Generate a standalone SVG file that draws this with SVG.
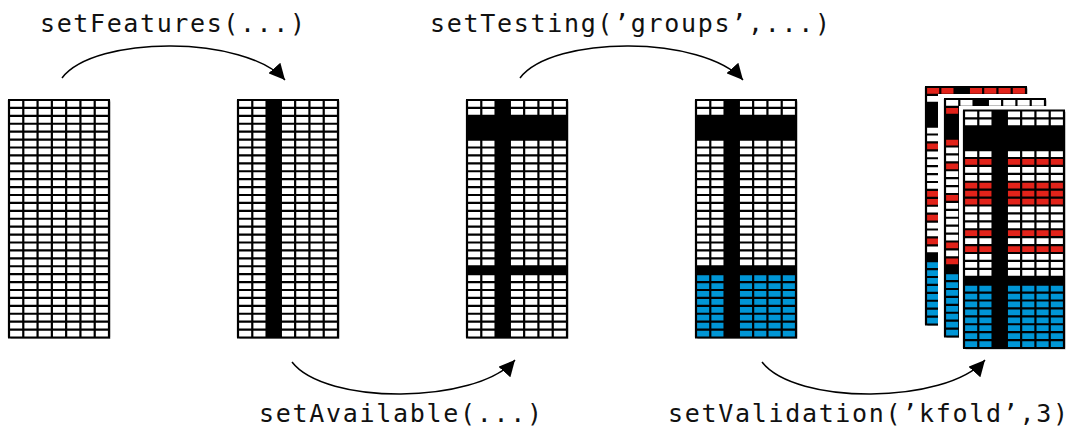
<svg xmlns="http://www.w3.org/2000/svg" xmlns:xlink="http://www.w3.org/1999/xlink" width="1073" height="432" viewBox="0 0 1073 432">
  <style>
    .label { font-family: "DejaVu Sans Mono", "Liberation Mono", monospace; font-size: 25px; fill: #111; }
    .conn { fill: none; stroke: #000; stroke-width: 1.5; }
    .sheet { fill: #fff; }
    .shadow { fill: #b4b4b4; }
    .blk { fill: #000; }
    .red { fill: #E2231A; }
    .blue { fill: #0096D6; }
  </style>
  <defs>
    <marker id="arrow" markerUnits="userSpaceOnUse" markerWidth="18" markerHeight="16" refX="16" refY="8" orient="auto">
      <path d="M0,0 L16,8 L0,16 z" fill="#000"/>
    </marker>
    <!-- 7 x 30 cell grid lines, 100 x 237.5 -->
    <path id="gridlines" fill="none" stroke="#000" stroke-width="2.2" d="
      M0,0V237.5 M14.286,0V237.5 M28.571,0V237.5 M42.857,0V237.5 M57.143,0V237.5 M71.429,0V237.5 M85.714,0V237.5 M100,0V237.5
      M-1,0H101 M0,7.917H100 M0,15.833H100 M0,23.75H100 M0,31.667H100 M0,39.583H100 M0,47.5H100 M0,55.417H100
      M0,63.333H100 M0,71.25H100 M0,79.167H100 M0,87.083H100 M0,95H100 M0,102.917H100 M0,110.833H100 M0,118.75H100
      M0,126.667H100 M0,134.583H100 M0,142.5H100 M0,150.417H100 M0,158.333H100 M0,166.25H100 M0,174.167H100
      M0,182.083H100 M0,190H100 M0,197.917H100 M0,205.833H100 M0,213.75H100 M0,221.667H100 M0,229.583H100 M-1,237.5H101"/>
    <!-- base sheet: shadow + white area -->
    <g id="base">
      <rect class="shadow" x="1.5" y="1.5" width="100" height="237.5"/>
      <rect class="sheet" x="0" y="0" width="100" height="237.5"/>
    </g>
    <!-- feature column and held-out rows -->
    <rect id="featcol" class="blk" x="28.571" y="0" width="14.286" height="237.5"/>
    <rect id="testrows" class="blk" x="0" y="15.833" width="100" height="23.75"/>
    <rect id="sepRow" class="blk" x="0" y="166.25" width="100" height="7.917"/>
    <rect id="testblock" class="blue" x="0" y="174.167" width="100" height="63.333"/>
  </defs>

  <!-- full data matrix -->
  <g id="grid-data" transform="translate(9,100)">
    <use xlink:href="#base"/>
    <use xlink:href="#gridlines"/>
  </g>

  <!-- features selected -->
  <g id="grid-features" transform="translate(238,100)">
    <use xlink:href="#base"/>
    <use xlink:href="#featcol"/>
    <use xlink:href="#gridlines"/>
  </g>

  <!-- available samples -->
  <g id="grid-available" transform="translate(467,100)">
    <use xlink:href="#base"/>
    <use xlink:href="#featcol"/>
    <use xlink:href="#testrows"/>
    <use xlink:href="#sepRow"/>
    <use xlink:href="#gridlines"/>
  </g>

  <!-- testing groups -->
  <g id="grid-testing" transform="translate(696,100)">
    <use xlink:href="#base"/>
    <use xlink:href="#testblock"/>
    <use xlink:href="#featcol"/>
    <use xlink:href="#testrows"/>
    <use xlink:href="#sepRow"/>
    <use xlink:href="#gridlines"/>
  </g>

  <!-- k-fold validation sheets -->
  <g id="fold-1" transform="translate(926,87)">
    <use xlink:href="#base"/>
    <use xlink:href="#testblock"/>
    <rect class="red" x="0" y="0" width="100" height="7.917"/>
    <rect class="red" x="0" y="55.417" width="100" height="7.917"/>
    <rect class="red" x="0" y="102.917" width="100" height="15.833"/>
    <rect class="red" x="0" y="126.667" width="100" height="7.917"/>
    <rect class="red" x="0" y="150.417" width="100" height="7.917"/>
    <use xlink:href="#featcol"/>
    <use xlink:href="#testrows"/>
    <use xlink:href="#sepRow"/>
    <use xlink:href="#gridlines"/>
  </g>

  <g id="fold-2" transform="translate(945,99)">
    <rect class="sheet" x="-7" y="-5" width="113" height="249"/>
    <use xlink:href="#base"/>
    <use xlink:href="#testblock"/>
    <rect class="red" x="0" y="7.917" width="100" height="7.917"/>
    <rect class="red" x="0" y="39.583" width="100" height="7.917"/>
    <rect class="red" x="0" y="63.333" width="100" height="7.917"/>
    <rect class="red" x="0" y="95" width="100" height="7.917"/>
    <rect class="red" x="0" y="142.5" width="100" height="7.917"/>
    <rect class="red" x="0" y="158.333" width="100" height="7.917"/>
    <use xlink:href="#featcol"/>
    <use xlink:href="#testrows"/>
    <use xlink:href="#sepRow"/>
    <use xlink:href="#gridlines"/>
  </g>

  <g id="fold-3" transform="translate(964,110.5)">
    <rect class="sheet" x="-5" y="-4.5" width="110" height="248"/>
    <use xlink:href="#base"/>
    <use xlink:href="#testblock"/>
    <rect class="red" x="0" y="47.5" width="100" height="7.917"/>
    <rect class="red" x="0" y="71.25" width="100" height="23.75"/>
    <rect class="red" x="0" y="118.75" width="100" height="7.917"/>
    <rect class="red" x="0" y="134.583" width="100" height="7.917"/>
    <use xlink:href="#featcol"/>
    <use xlink:href="#testrows"/>
    <use xlink:href="#sepRow"/>
    <use xlink:href="#gridlines"/>
  </g>

  <!-- connectors -->
  <g id="connectors">
    <path class="conn" d="M62,78 C95,35 245,35 285,80" marker-end="url(#arrow)"/>
    <path class="conn" d="M520,78 C553,35 703,35 743,80" marker-end="url(#arrow)"/>
    <path class="conn" d="M292,362 C325,405 475,405 515,360" marker-end="url(#arrow)"/>
    <path class="conn" d="M762,362 C795,405 945,405 985,360" marker-end="url(#arrow)"/>
  </g>

  <!-- labels -->
  <g id="labels">
    <text class="label" x="40" y="32" textLength="265" lengthAdjust="spacing">setFeatures(...)</text>
    <text class="label" x="430" y="32" textLength="400" lengthAdjust="spacing">setTesting(’groups’,...)</text>
    <text class="label" x="259" y="422" textLength="283" lengthAdjust="spacing">setAvailable(...)</text>
    <text class="label" x="668" y="422" textLength="400" lengthAdjust="spacing">setValidation(’kfold’,3)</text>
  </g>
</svg>
